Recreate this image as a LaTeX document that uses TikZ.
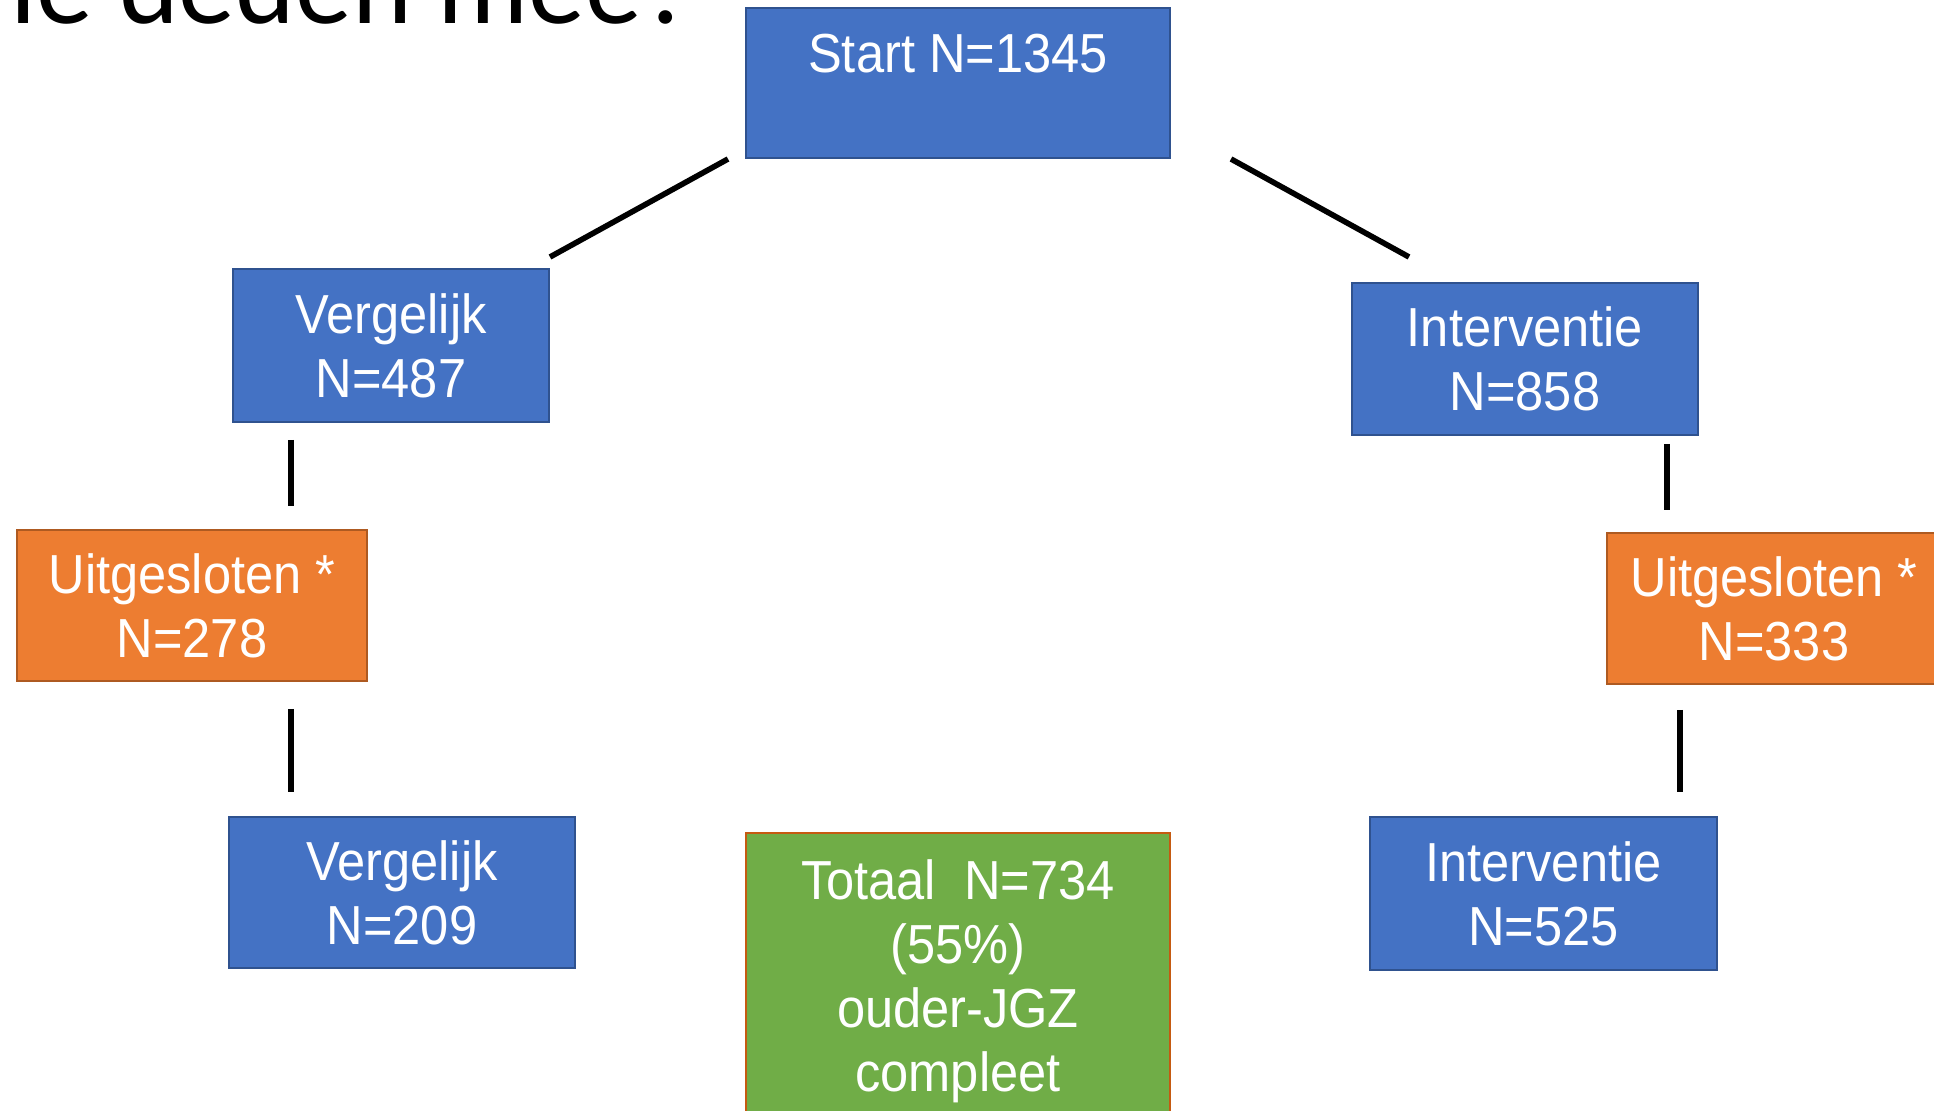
\documentclass[tikz,border=0pt]{standalone}
\usepackage{fontspec}
\setmainfont{Liberation Sans}[FakeStretch=0.92]
\newfontfamily\titlefont{Carlito}
\definecolor{blauw}{HTML}{4472C4}
\definecolor{blauwrand}{HTML}{2F528F}
\definecolor{oranje}{HTML}{ED7D31}
\definecolor{oranjerand}{HTML}{AE5A21}
\definecolor{groen}{HTML}{70AD47}
\definecolor{groenrand}{HTML}{C55A11}

\begin{document}
\begin{tikzpicture}[x=0.5pt,y=-0.5pt]
\tikzstyle{every node}+=[inner sep=0pt]
\tikzstyle{blok}=[rectangle, line width=1pt, text=white, align=center, font=\fontsize{27.5}{32}\selectfont]
\tikzstyle{blauwblok}=[blok, fill=blauw, draw=blauwrand]
\tikzstyle{oranjeblok}=[blok, fill=oranje, draw=oranjerand]
\tikzstyle{groenblok}=[blok, fill=groen, draw=groenrand]
\tikzstyle{lijn}=[black, line width=2.8pt]
\useasboundingbox (0,0) rectangle (1934,1111);
\clip (0,0) rectangle (1934,1111);
\node [anchor=base west, font=\titlefont\fontsize{57}{60}\selectfont] (title) at (10,24) {ie deden mee?};
\node [blauwblok, minimum width=212pt, minimum height=75pt, text depth=29.5pt] (start) at (958,83) {Start N=1345};
\node [blauwblok, minimum width=158pt, minimum height=76.5pt] (verg1) at (391,345.5) {Vergelijk\\N=487};
\node [blauwblok, minimum width=173pt, minimum height=76pt] (int1) at (1525,359) {Interventie\\N=858};
\node [oranjeblok, minimum width=175pt, minimum height=75.5pt] (uitL) at (192,605.5) {Uitgesloten *\\N=278};
\node [oranjeblok, minimum width=167pt, minimum height=75.5pt] (uitR) at (1774,608.5) {Uitgesloten *\\N=333};
\node [blauwblok, minimum width=173pt, minimum height=75.5pt] (verg2) at (402,892.5) {Vergelijk\\N=209};
\node [blauwblok, minimum width=173.5pt, minimum height=76.5pt] (int2) at (1543.5,893.5) {Interventie\\N=525};
\node [groenblok, minimum width=212pt, minimum height=148pt] (total) at (958,981) {Totaal~ N=734\\(55\%)\\ouder-JGZ\\compleet};
\draw [lijn] ([shift={(-17,0)}]start.south west) -- ([shift={(0,-11)}]verg1.north east);
\draw [lijn] ([shift={(60,0)}]start.south east) -- ([shift={(58,-25)}]int1.north west);
\draw [lijn] ([shift={(-100,17)}]verg1.south) -- ([shift={(99,-23)}]uitL.north);
\draw [lijn] ([shift={(99,27)}]uitL.south) -- ([shift={(-111,-24)}]verg2.north);
\draw [lijn] ([shift={(142,8)}]int1.south) -- ([shift={(-107,-22)}]uitR.north);
\draw [lijn] ([shift={(-94,25)}]uitR.south) -- ([shift={(136.5,-24)}]int2.north);
\end{tikzpicture}
\end{document}
